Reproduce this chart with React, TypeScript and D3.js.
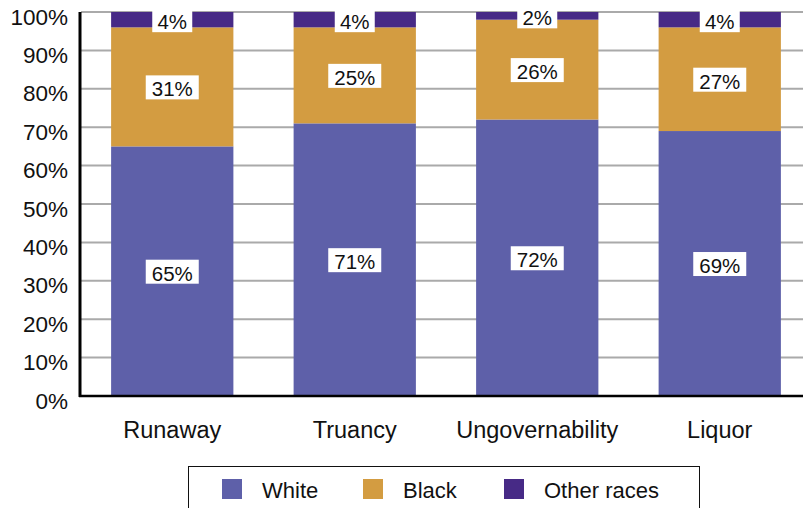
import React from "react";
import * as d3 from "d3";

const categories = ["Runaway", "Truancy", "Ungovernability", "Liquor"];
const seriesNames = ["White", "Black", "Other races"];
const whiteValues = [65, 71, 72, 69];
const blackValues = [31, 25, 26, 27];
const otherValues = [4, 4, 2, 4];
const yTicks = [0, 10, 20, 30, 40, 50, 60, 70, 80, 90, 100];
const colors = ["#5e60a9", "#d39c41", "#472a86"];

const W = 803;
const H = 508;
const FONT = "'Liberation Sans', Arial, Helvetica, sans-serif";

export default function App() {
  const y = d3.scaleLinear().domain([0, 100]).range([396, 12]);
  const x = d3
    .scaleBand<string>()
    .domain(categories)
    .range([81, 811])
    .paddingInner(0.33)
    .paddingOuter(0.165);

  const rows = categories.map((c, i) => ({
    cat: c,
    White: whiteValues[i],
    Black: blackValues[i],
    "Other races": otherValues[i],
  }));
  const stack = d3.stack<any>().keys(seriesNames)(rows);

  const legendItems = seriesNames.map((n, i) => ({ name: n, color: colors[i] }));
  const legendX = [222, 363, 504];

  return (
    <svg
      width={W}
      height={H}
      style={{ position: "absolute", left: 0, top: 0, display: "block" }}
      fontFamily={FONT}
    >
      <rect x={0} y={0} width={W} height={H} fill="#fff" />
      {yTicks.map((t) => (
        <g key={t}>
          {t > 0 && (
            <line x1={81} x2={W} y1={y(t)} y2={y(t)} stroke="#aaaaaa" strokeWidth={2} />
          )}
          <text
            x={68}
            y={y(t) + 12.5}
            textAnchor="end"
            fontSize={22.5}
            fill="#111"
          >
            {t}%
          </text>
        </g>
      ))}
      {stack.map((layer, si) =>
        layer.map((d, ci) => (
          <rect
            key={`${si}-${ci}`}
            x={x(categories[ci])}
            y={y(d[1])}
            width={x.bandwidth()}
            height={y(d[0]) - y(d[1])}
            fill={colors[si]}
          />
        ))
      )}
      {stack.map((layer, si) =>
        layer.map((d, ci) => {
          const v = d[1] - d[0];
          const cx = (x(categories[ci]) as number) + x.bandwidth() / 2;
          const cy = y((d[0] + d[1]) / 2);
          const label = `${v}%`;
          const bw = label.length * 13 + 14;
          return (
            <g key={`l-${si}-${ci}`}>
              <rect x={cx - bw / 2} y={cy - 11.5} width={bw} height={24} fill="#fff" />
              <text
                x={cx}
                y={cy + 9.5}
                textAnchor="middle"
                fontSize={20.5}
                fill="#111"
              >
                {label}
              </text>
            </g>
          );
        })
      )}
      <line x1={80} x2={80} y1={12} y2={397} stroke="#000" strokeWidth={3} />
      <line x1={79} x2={W} y1={396} y2={396} stroke="#000" strokeWidth={2.5} />
      {categories.map((c) => (
        <text
          key={c}
          x={(x(c) as number) + x.bandwidth() / 2}
          y={438}
          textAnchor="middle"
          fontSize={23.5}
          fill="#111"
        >
          {c}
        </text>
      ))}
      <rect x={188.5} y={466.5} width={511} height={60} fill="#fff" stroke="#111" strokeWidth={1} />
      {legendItems.map((it, i) => (
        <g key={it.name}>
          <rect x={legendX[i]} y={479} width={20} height={20} fill={it.color} />
          <text x={legendX[i] + 40} y={498} fontSize={22} fill="#111">
            {it.name}
          </text>
        </g>
      ))}
    </svg>
  );
}
